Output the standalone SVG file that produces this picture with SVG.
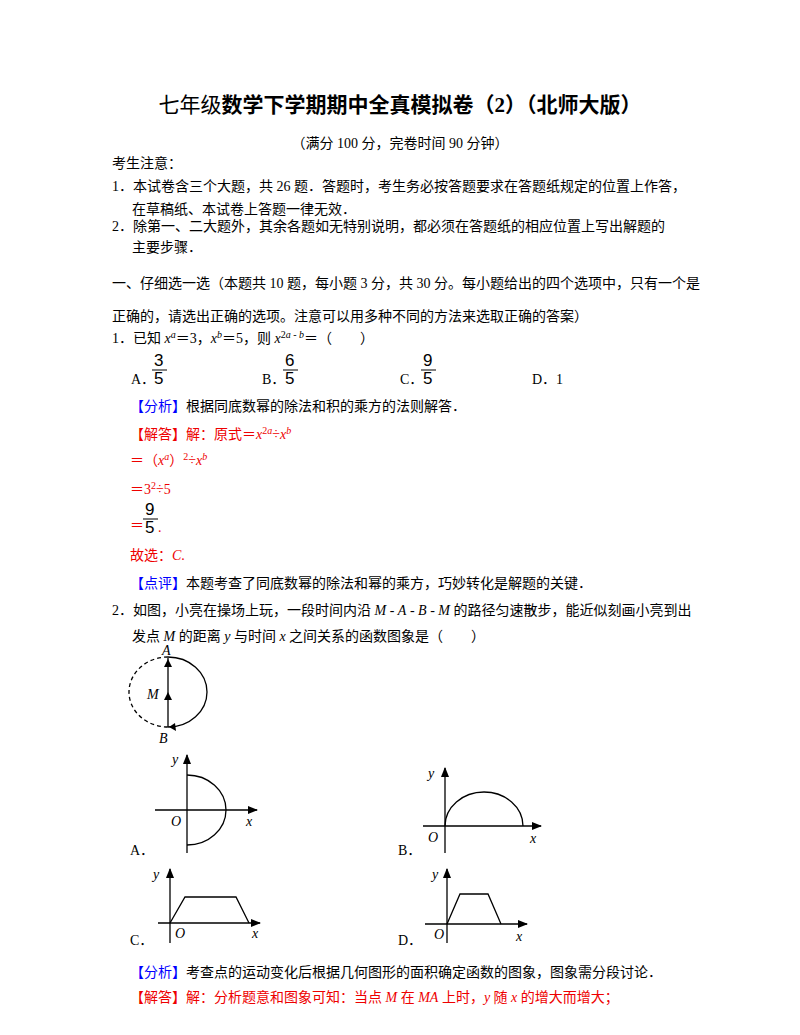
<svg xmlns="http://www.w3.org/2000/svg" width="800" height="1035" viewBox="0 0 800 1035">
<style>
text{font-family:"Liberation Serif","Noto Sans CJK SC",serif;font-size:14px;fill:#000}
.r{fill:#e00}
.b{fill:#0000ff}
.i{font-style:italic}
.f{font-family:"Liberation Sans",sans-serif;font-size:17px}
.ax{stroke:#000;stroke-width:1.3;fill:none}
.l{font-family:"Liberation Serif",serif;font-style:italic;font-size:14px}
</style>
<defs>
<marker id="ah" viewBox="0 0 10 10" refX="9" refY="5" markerWidth="8" markerHeight="8" orient="auto"><path d="M0,1 L10,5 L0,9 z" fill="#000"/></marker>
</defs>
<rect width="800" height="1035" fill="#fff"/>
<g id="text">
<text x="400" y="112" text-anchor="middle" style="font-size:21px"><tspan>七年级</tspan><tspan font-weight="bold">数学下学期期中全真模拟卷（2）（北师大版）</tspan></text>
<text x="400" y="148" text-anchor="middle">（满分 100 分，完卷时间 90 分钟）</text>
<text x="112" y="168">考生注意：</text>
<text x="112" y="191">1．本试卷含三个大题，共 26 题．答题时，考生务必按答题要求在答题纸规定的位置上作答，</text>
<text x="132" y="214">在草稿纸、本试卷上答题一律无效．</text>
<text x="112" y="231">2．除第一、二大题外，其余各题如无特别说明，都必须在答题纸的相应位置上写出解题的</text>
<text x="132" y="252">主要步骤．</text>
<text x="112" y="288">一、仔细选一选（本题共 10 题，每小题 3 分，共 30 分。每小题给出的四个选项中，只有一个是</text>
<text x="112" y="321">正确的，请选出正确的选项。注意可以用多种不同的方法来选取正确的答案）</text>
<text x="112" y="343">1．已知 <tspan class="i">x</tspan><tspan class="i" font-size="10" dy="-5">a</tspan><tspan dy="5">＝3，</tspan><tspan class="i">x</tspan><tspan class="i" font-size="10" dy="-5">b</tspan><tspan dy="5">＝5，则 </tspan><tspan class="i">x</tspan><tspan font-size="10" dy="-5">2<tspan class="i">a</tspan> - <tspan class="i">b</tspan></tspan><tspan dy="5">＝（　　）</tspan></text>
<text x="131" y="384">A．</text><text class="f" x="154" y="366">3</text><line x1="152" y1="370" x2="167" y2="370" stroke="#000"/><text class="f" x="154" y="384">5</text>
<text x="262" y="384">B．</text><text class="f" x="285" y="366">6</text><line x1="283" y1="370" x2="298" y2="370" stroke="#000"/><text class="f" x="285" y="384">5</text>
<text x="400" y="384">C．</text><text class="f" x="423" y="366">9</text><line x1="421" y1="370" x2="436" y2="370" stroke="#000"/><text class="f" x="423" y="384">5</text>
<text x="532" y="384">D．1</text>
<text x="130" y="411"><tspan class="b">【分析】</tspan>根据同底数幂的除法和积的乘方的法则解答．</text>
<text x="130" y="439" class="r">【解答】解：原式＝<tspan class="i">x</tspan><tspan font-size="10" dy="-5">2<tspan class="i">a</tspan></tspan><tspan dy="5">÷</tspan><tspan class="i">x</tspan><tspan class="i" font-size="10" dy="-5">b</tspan></text>
<text x="130" y="465" class="r">＝（<tspan class="i">x</tspan><tspan class="i" font-size="10" dy="-5">a</tspan><tspan dy="5">）</tspan><tspan font-size="10" dy="-5">2</tspan><tspan dy="5">÷</tspan><tspan class="i">x</tspan><tspan class="i" font-size="10" dy="-5">b</tspan></text>
<text x="130" y="494" class="r">＝3<tspan font-size="10" dy="-5">2</tspan><tspan dy="5">÷5</tspan></text>
<text x="130" y="530" class="r">＝</text><text class="f" x="145" y="515" style="fill:#000">9</text><line x1="143" y1="519" x2="158" y2="519" stroke="#000"/><text class="f" x="145" y="533" style="fill:#000">5</text><text x="158" y="532" class="r">.</text>
<text x="130" y="560" class="r">故选：<tspan class="i">C</tspan>.</text>
<text x="130" y="588"><tspan class="b">【点评】</tspan>本题考查了同底数幂的除法和幂的乘方，巧妙转化是解题的关键．</text>
<text x="112" y="615">2．如图，小亮在操场上玩，一段时间内沿 <tspan class="i">M</tspan> - <tspan class="i">A</tspan> - <tspan class="i">B</tspan> - <tspan class="i">M</tspan> 的路径匀速散步，能近似刻画小亮到出</text>
<text x="132" y="641">发点 <tspan class="i">M</tspan> 的距离 <tspan class="i">y</tspan> 与时间 <tspan class="i">x</tspan> 之间关系的函数图象是（　　）</text>
<text x="130" y="977"><tspan class="b">【分析】</tspan>考查点的运动变化后根据几何图形的面积确定函数的图象，图象需分段讨论．</text>
<text x="130" y="1002" class="r">【解答】解：分析题意和图象可知：当点 <tspan class="i">M</tspan> 在 <tspan class="i">MA</tspan> 上时，<tspan class="i">y</tspan> 随 <tspan class="i">x</tspan> 的增大而增大；</text>
</g>
<g id="circle-figure">
<path d="M168,657 A39,35 0 0 1 168,727" class="ax"/>
<path d="M168,657 A39,35 0 0 0 168,727" class="ax" stroke-dasharray="4,3" stroke-width="1"/>
<line x1="168" y1="727" x2="168" y2="658" class="ax"/>
<path d="M164,667 L168,659 L172,667 z"/><path d="M164,700 L168,692 L172,700 z"/>
<path d="M175,723 L169,727 L176,731 z"/>
<text class="l" x="162" y="655">A</text><text class="l" x="147" y="699">M</text><text class="l" x="159" y="743">B</text>
</g>
<g id="graph-A">
<line x1="155" y1="810" x2="257" y2="810" class="ax" marker-end="url(#ah)"/>
<line x1="187" y1="853" x2="187" y2="755" class="ax" marker-end="url(#ah)"/>
<path d="M187,775 A39,35 0 0 1 187,845" class="ax"/>
<text class="l" x="172" y="764">y</text><text class="l" x="171" y="826">O</text><text class="l" x="246" y="826">x</text>
<text x="130" y="855">A．</text>
</g>
<g id="graph-B">
<line x1="423" y1="826" x2="541" y2="826" class="ax" marker-end="url(#ah)"/>
<line x1="445" y1="853" x2="445" y2="768" class="ax" marker-end="url(#ah)"/>
<path d="M445,826 A39,34 0 0 1 523,826" class="ax"/>
<text class="l" x="428" y="778">y</text><text class="l" x="428" y="842">O</text><text class="l" x="530" y="843">x</text>
<text x="398" y="855">B．</text>
</g>
<g id="graph-C">
<line x1="158" y1="923" x2="260" y2="923" class="ax" marker-end="url(#ah)"/>
<line x1="170" y1="943" x2="170" y2="869" class="ax" marker-end="url(#ah)"/>
<polyline points="170,923 185,897 236,897 249,923" class="ax"/>
<text class="l" x="153" y="879">y</text><text class="l" x="175" y="938">O</text><text class="l" x="252" y="938">x</text>
<text x="130" y="945">C．</text>
</g>
<g id="graph-D">
<line x1="425" y1="924" x2="527" y2="924" class="ax" marker-end="url(#ah)"/>
<line x1="447" y1="943" x2="447" y2="869" class="ax" marker-end="url(#ah)"/>
<polyline points="447,924 460,894 488,894 501,924" class="ax"/>
<text class="l" x="432" y="879">y</text><text class="l" x="434" y="939">O</text><text class="l" x="516" y="941">x</text>
<text x="398" y="945">D．</text>
</g>
</svg>
